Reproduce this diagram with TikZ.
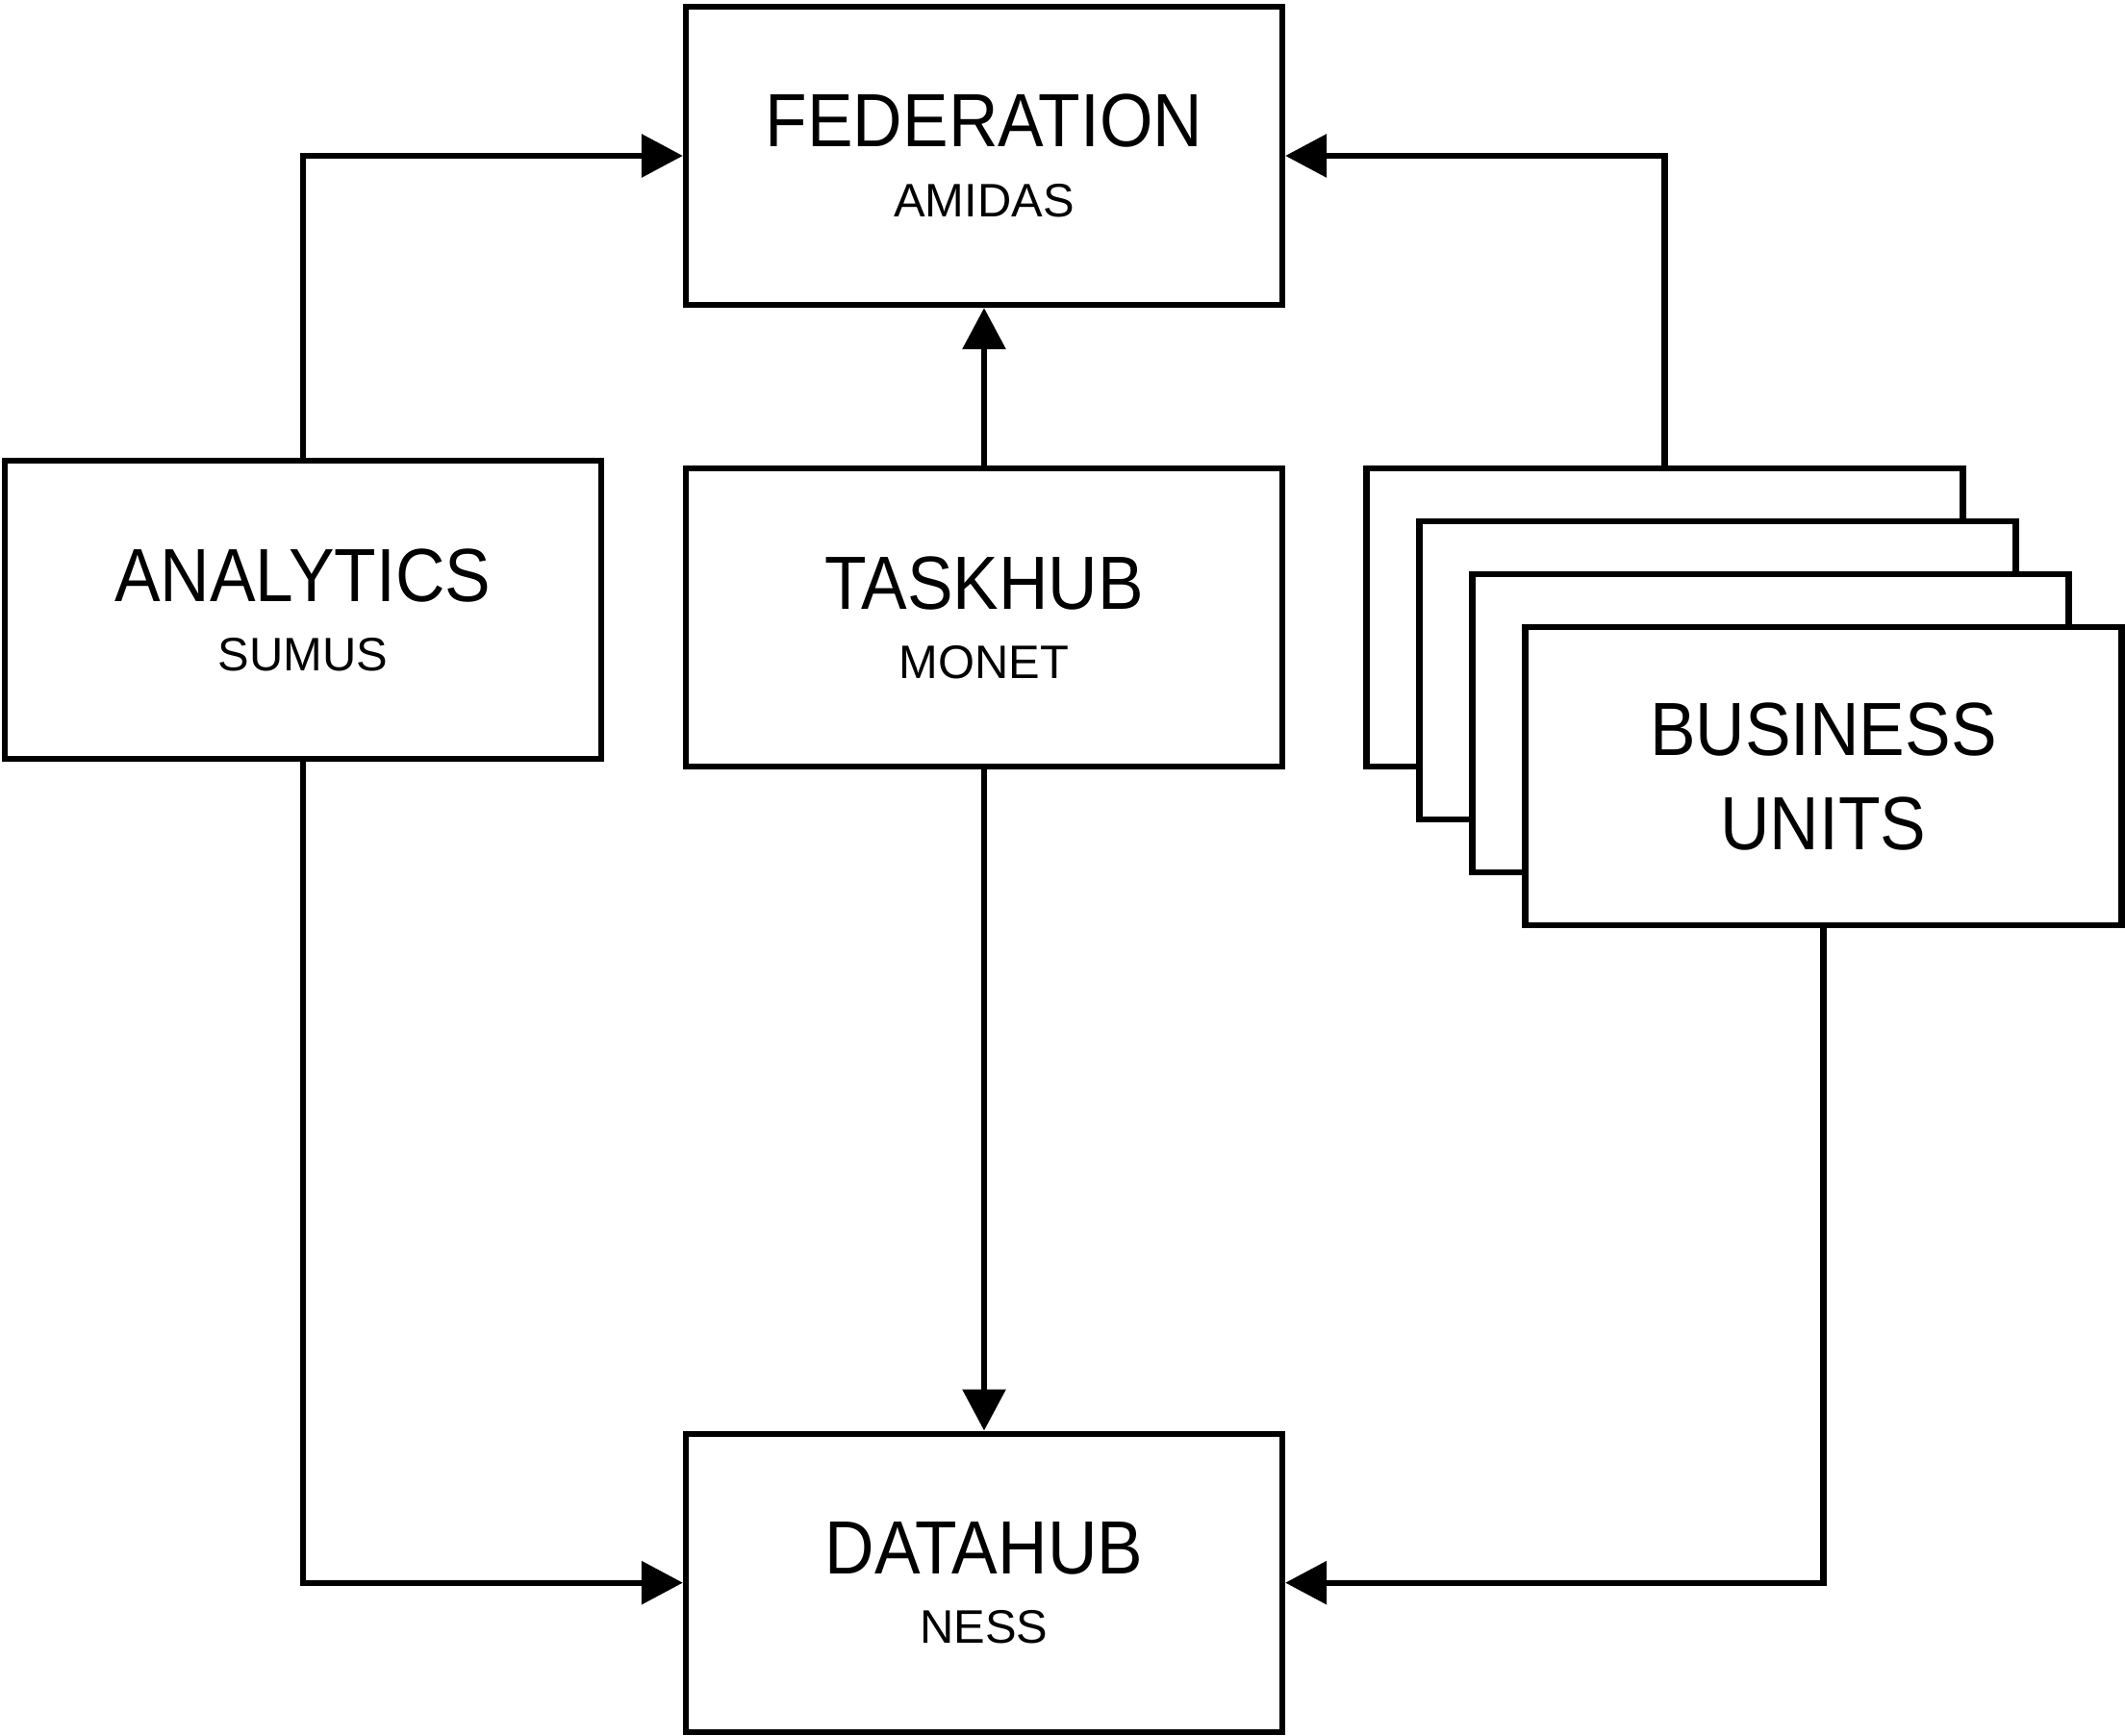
\documentclass[tikz,border=0pt]{standalone}
\usepackage{fontspec}
\setmainfont{Liberation Sans}
\newfontfamily\titlefont[FakeStretch=0.91]{Liberation Sans}
\newcommand{\sysname}[1]{{\normalfont\fontsize{13.9pt}{20.7pt}\selectfont #1}}
\usepackage{tikz}
\usetikzlibrary{arrows.meta,positioning,calc}
\tikzset{
  box/.style={draw, line width=1.8pt, fill=white, minimum width=62mm, minimum height=31mm, align=center,
              font=\fontsize{22.3pt}{20.7pt}\titlefont, inner sep=0pt},
  unitbox/.style={box, font=\fontsize{22.3pt}{27.8pt}\titlefont},
  arr/.style={-{Triangle[length=4.3mm, width=4.4mm]}, line width=1.8pt}
}

\begin{document}
\begin{tikzpicture}
\useasboundingbox (0,0) rectangle (22.09,-18.05);
\node[box] (fed) at (10.23,-1.62) {FEDERATION\\ \sysname{AMIDAS}};
\node[box, below=16.4mm of fed] (task) {TASKHUB\\ \sysname{MONET}};
\node[box, below=68.7mm of task] (dh) {DATAHUB\\ \sysname{NESS}};
\node[box, left=8.2mm of task, yshift=0.8mm] (ana) {ANALYTICS\\ \sysname{SUMUS}};
\node[box, right=8.1mm of task] (bu1) {};
\node[box] (bu2) at ($(bu1)+(5.5mm,-5.5mm)$) {};
\node[box] (bu3) at ($(bu2)+(5.5mm,-5.5mm)$) {};
\node[unitbox] (bu4) at ($(bu3)+(5.5mm,-5.5mm)$) {BUSINESS\\ UNITS};
\draw[arr] (ana.north) |- (fed.west);
\draw[arr] (bu1.north) |- (fed.east);
\draw[arr] (task.north) -- (fed.south);
\draw[arr] (task.south) -- (dh.north);
\draw[arr] (ana.south) |- (dh.west);
\draw[arr] (bu4.south) |- (dh.east);
\end{tikzpicture}
\end{document}
